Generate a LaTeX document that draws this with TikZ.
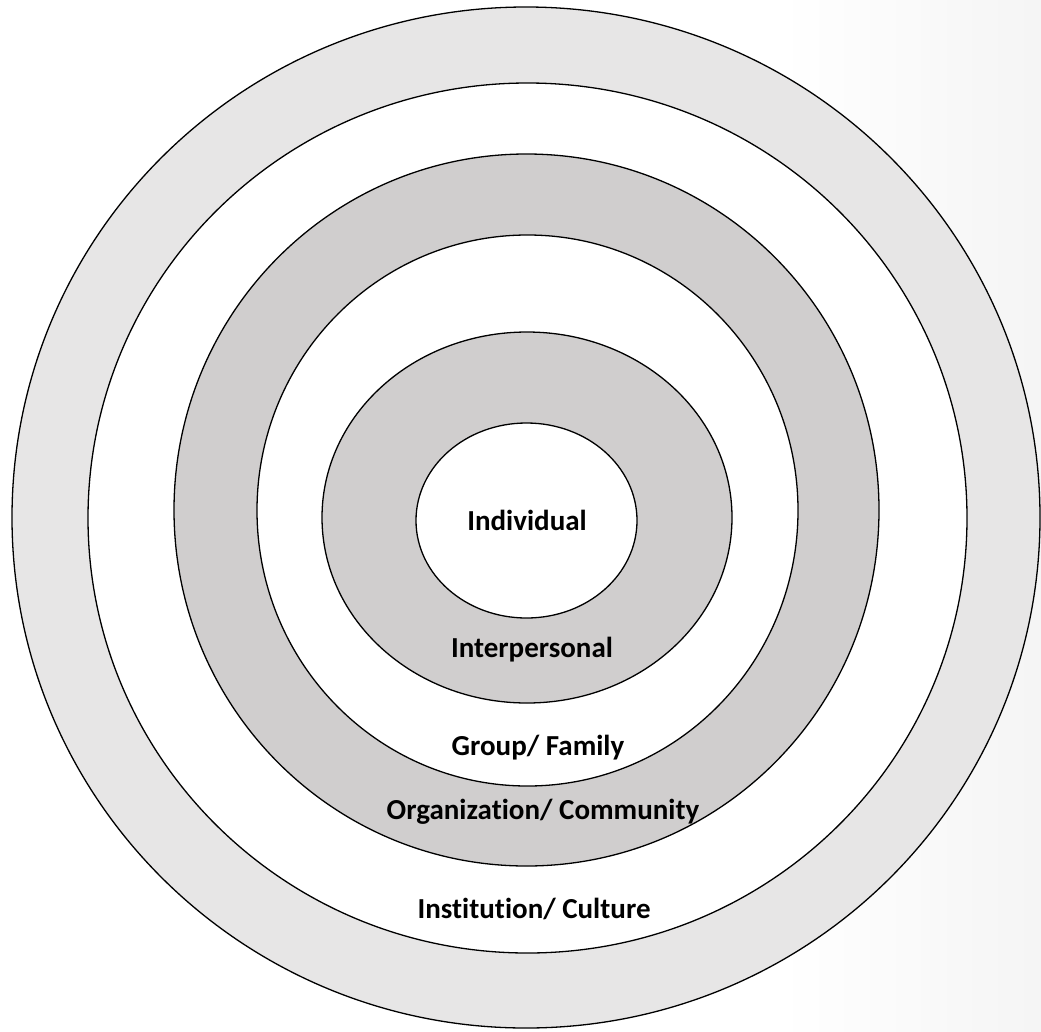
\documentclass[tikz,border=0pt]{standalone}
\usepackage{fontspec}
\setmainfont{Carlito}[Ligatures=NoCommon]
\usetikzlibrary{shapes.geometric}
\definecolor{ringlight}{HTML}{E7E6E6}
\definecolor{ringdark}{HTML}{D0CECE}

\begin{document}
\begin{tikzpicture}[x=1pt,y=-1pt,
	  every node/.style={align=center,text=black},
	  ring/.style={ellipse,draw=black,line width=1.3pt,inner sep=0pt},
	  lightring/.style={ring,fill=ringlight},
	  darkring/.style={ring,fill=ringdark},
	  whitering/.style={ring,fill=white},
	  level/.style={inner sep=0pt,font=\fontsize{29}{34}\selectfont\bfseries}]

	  \useasboundingbox (0,0) rectangle (1041,1031);
	  \shade[left color=white,right color=black!4,draw=none] (780,0) rectangle (1041,1031);

	  % rings, from the outside in
	  \node[lightring,minimum width=1028pt,minimum height=1021pt] (institutionring) at (526,517.5) {};
	  \node[whitering,minimum width=879pt,minimum height=870pt] (institutioninner) at (527.5,518) {};
	  \node[darkring,minimum width=705pt,minimum height=712pt] (organizationring) at (526.5,510) {};
	  \node[whitering,minimum width=541pt,minimum height=551pt] (groupring) at (527.5,510.5) {};
	  \node[darkring,minimum width=410pt,minimum height=371pt] (interpersonalring) at (527,517.5) {};
	  \node[whitering,minimum width=221pt,minimum height=195pt] (individualring) at (526.5,520.5) {};

	  % labels
	  \node[level] (individual) at (527,520) {Individual};
	  \node[level] (interpersonal) at (532,650) {Interpersonal};
	  \node[level] (group) at (538,748) {Group/ Family};
	  \node[level] (organization) at (543,812) {Organization/ Community};
	  \node[level] (institution) at (534,909) {Institution/ Culture};
\end{tikzpicture}
\end{document}
